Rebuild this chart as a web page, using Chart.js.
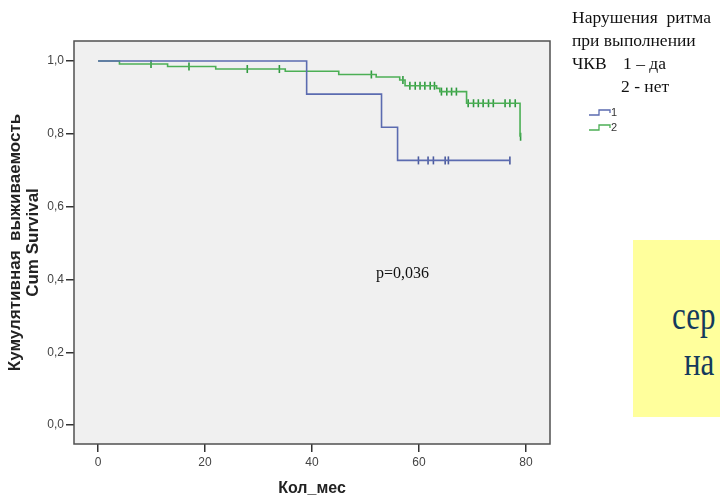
<!DOCTYPE html>
<html>
<head>
<meta charset="utf-8">
<script src="https://cdn.jsdelivr.net/npm/chart.js@4/dist/chart.umd.min.js"></script>
<style>
  body { margin: 0; background: #fff; }
  #wrap { position: relative; width: 720px; height: 498px; overflow: hidden; }
  canvas { position: absolute; left: 0; top: 0; }
  .serif { position: absolute; font-family: "Liberation Serif", "Times New Roman", serif; color: #111; white-space: pre; }
  #note { position: absolute; left: 633px; top: 240px; width: 100px; height: 177px; background: #ffff9c; }
  .big { position: absolute; font-family: "Liberation Serif", serif; font-size: 31px; color: #143a5c; transform: scaleY(1.3); transform-origin: left bottom; line-height: 1; }
  .lg { position: absolute; font-family: "Liberation Sans", Arial, sans-serif; font-size: 11px; color: #333; }
</style>
</head>
<body>
<div id="wrap">
  <canvas id="km" width="720" height="498"></canvas>

  <div class="serif" style="left:572px; top:7px; font-size:17.5px;">Нарушения  ритма</div>
  <div class="serif" style="left:572px; top:30px; font-size:17.5px;">при выполнении</div>
  <div class="serif" style="left:572px; top:53px; font-size:17.5px;">ЧКВ</div>
  <div class="serif" style="left:623px; top:53px; font-size:17.5px;">1 – да</div>
  <div class="serif" style="left:621px; top:76px; font-size:17.5px;">2 - нет</div>

  <svg style="position:absolute; left:585px; top:104px;" width="32" height="32">
    <path d="M4 11 H14 V6 H25 V9" fill="none" stroke="#5b6bb0" stroke-width="1.3"/>
    <path d="M4 26 H14 V21 H25 V24" fill="none" stroke="#4caf55" stroke-width="1.3"/>
  </svg>
  <div class="lg" style="left:611px; top:106px;">1</div>
  <div class="lg" style="left:611px; top:121px;">2</div>

  <div class="serif" style="left:376px; top:264px; font-size:16px;">p=0,036</div>

  <div id="note"></div>
  <div class="big" style="left:672px; top:304px;">сер</div>
  <div class="big" style="left:684px; top:350px;">на</div>
</div>

<script>
// группа 1 (нарушения ритма – да)
const blueTime = [0, 39, 53, 56, 77];
const blueSurv = [1, 0.909, 0.818, 0.727, 0.727];
const blueCens = [59.9, 61.7, 62.7, 64.9, 65.5, 77];

// группа 2 (нет)
const greenTime = [0, 4, 13, 22, 35, 45, 52, 56.4, 57.4, 63.3, 63.9, 68.9, 78.9];
const greenSurv = [1, 0.992, 0.985, 0.978, 0.972, 0.963, 0.956, 0.948, 0.932, 0.925, 0.916, 0.884, 0.792];
const greenCens = [9.9, 17, 27.9, 33.9, 51.1, 57, 58.3, 59.3, 60.2, 61.1, 62.1, 62.9,
  64.2, 65.2, 66.1, 67, 69.2, 70.2, 71.1, 72, 73, 73.9, 76.1, 77, 78, 79];

const xTicks = [0, 20, 40, 60, 80];
const yTicks = [0, 0.2, 0.4, 0.6, 0.8, 1.0];

function survAt(times, surv, t) {
  let s = surv[0];
  for (let i = 0; i < times.length; i++) {
    if (times[i] <= t) s = surv[i];
  }
  return s;
}

const blueColor = '#5b6bb0';
const greenColor = '#4caf55';

const plotBox = {
  id: 'plotBox',
  beforeDatasetsDraw(chart) {
    const a = chart.chartArea, c = chart.ctx;
    c.save();
    c.fillStyle = '#f0f0f0';
    c.fillRect(a.left, a.top, a.right - a.left, a.bottom - a.top);
    c.restore();
  },
  afterDraw(chart) {
    const a = chart.chartArea, c = chart.ctx;
    c.save();
    c.strokeStyle = '#505050';
    c.lineWidth = 1.5;
    c.strokeRect(a.left, a.top, a.right - a.left, a.bottom - a.top);
    c.restore();
  }
};

new Chart(document.getElementById('km'), {
  type: 'line',
  data: {
    datasets: [
      {
        data: blueTime.map((t, i) => ({x: t, y: blueSurv[i]})),
        borderColor: blueColor,
        borderWidth: 1.6,
        stepped: 'before',
        pointRadius: 0,
        fill: false
      },
      {
        data: blueCens.map(t => ({x: t, y: survAt(blueTime, blueSurv, t)})),
        showLine: false,
        pointStyle: 'line',
        rotation: 90,
        pointRadius: 4,
        borderWidth: 1.6,
        borderColor: '#4a5a9e'
      },
      {
        data: greenTime.map((t, i) => ({x: t, y: greenSurv[i]})),
        borderColor: greenColor,
        borderWidth: 1.6,
        stepped: 'before',
        pointRadius: 0,
        fill: false
      },
      {
        data: greenCens.map(t => ({x: t, y: survAt(greenTime, greenSurv, t)})),
        showLine: false,
        pointStyle: 'line',
        rotation: 90,
        pointRadius: 4,
        borderWidth: 1.6,
        borderColor: '#2f9a3f'
      }
    ]
  },
  options: {
    responsive: false,
    animation: false,
    layout: { padding: { top: 41, right: 170, left: 0, bottom: 0 } },
    plugins: {
      legend: { display: false },
      tooltip: { enabled: false }
    },
    scales: {
      x: {
        type: 'linear',
        min: -4.5,
        max: 84.5,
        afterBuildTicks: s => { s.ticks = xTicks.map(v => ({value: v})); },
        afterFit: s => { s.height = 54; },
        border: { display: false },
        grid: { drawOnChartArea: false, drawTicks: true, tickLength: 8, color: '#333', lineWidth: 1.5 },
        ticks: { padding: 3, color: '#444', font: { family: 'Liberation Sans', size: 12 } },
        title: {
          display: true,
          text: 'Кол_мес',
          color: '#222',
          padding: 0,
          font: { family: 'Liberation Sans', size: 16, weight: 'bold' }
        }
      },
      y: {
        type: 'linear',
        min: -0.052,
        max: 1.055,
        afterBuildTicks: s => { s.ticks = yTicks.map(v => ({value: v})); },
        afterFit: s => { s.width = 74; },
        border: { display: false },
        grid: { drawOnChartArea: false, drawTicks: true, tickLength: 8, color: '#333', lineWidth: 1.5 },
        ticks: {
          padding: 2,
          color: '#444',
          font: { family: 'Liberation Sans', size: 12 },
          callback: v => v.toFixed(1).replace('.', ',')
        },
        title: {
          display: true,
          text: ['Кумулятивная  выживаемость', 'Cum Survival'],
          color: '#222',
          padding: { top: 6, bottom: 0 },
          font: { family: 'Liberation Sans', size: 17, weight: 'bold', lineHeight: 1.08 }
        }
      }
    }
  },
  plugins: [plotBox]
});
</script>
</body>
</html>
